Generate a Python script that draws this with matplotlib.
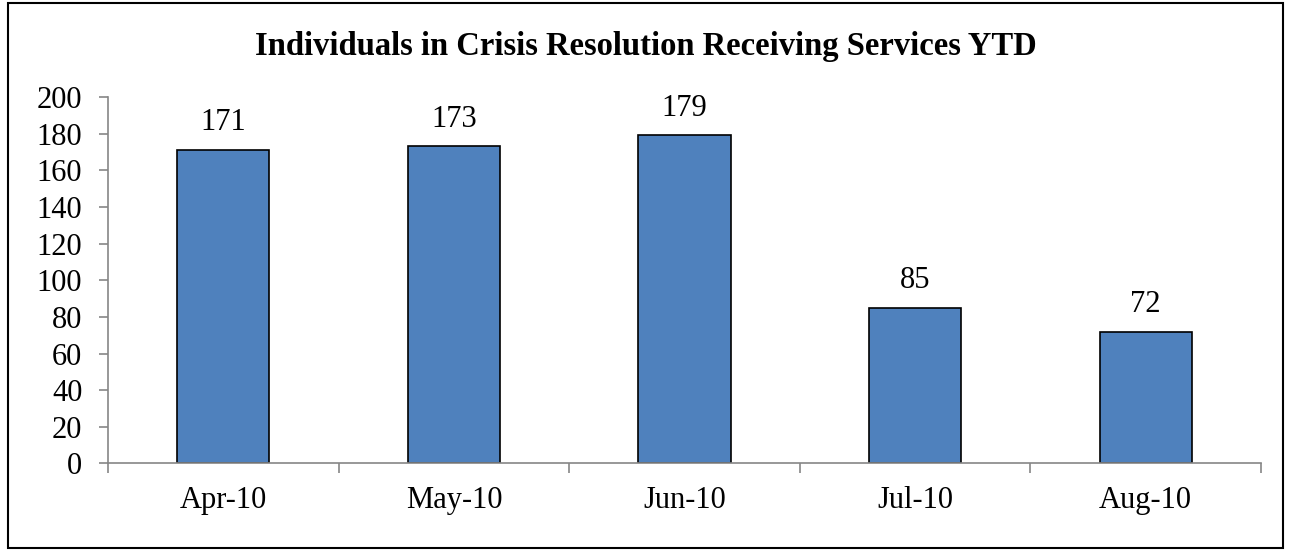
import matplotlib.pyplot as plt
from matplotlib.patches import Rectangle

# chart data
months = ['Apr-10', 'May-10', 'Jun-10', 'Jul-10', 'Aug-10']
individuals = [171, 173, 179, 85, 72]
y_ticks = [0, 20, 40, 60, 80, 100, 120, 140, 160, 180, 200]

plt.rcParams['font.family'] = ['Liberation Serif', 'DejaVu Serif']

fig = plt.figure(figsize=(12.91, 5.5), dpi=100)
ax = fig.add_axes([0.0837, 0.1573, 0.8931, 0.6663])

# outer border of the chart area
fig.patches.append(Rectangle((0.006, 0.004), 0.988, 0.99, transform=fig.transFigure,
                             fill=False, edgecolor='black', linewidth=1.5))

x = range(len(months))
bars = ax.bar(x, individuals, width=0.4, color='#4F81BD', edgecolor='black', linewidth=1.2)

for xi, v in zip(x, individuals):
    ax.text(xi, v + 7, str(v), ha='center', va='bottom', fontsize=22)

ax.set_xlim(-0.5, len(months) - 0.5)
ax.set_ylim(0, 200)
ax.set_yticks(y_ticks)
ax.tick_params(axis='y', labelsize=22, length=6.5, width=1.2, color='#868686', pad=12)

# category ticks sit between the bars
ax.set_xticks([i - 0.5 for i in range(len(months) + 1)])
ax.set_xticklabels([])
ax.set_xticks(list(x), minor=True)
ax.set_xticklabels(months, minor=True)
ax.tick_params(axis='x', which='major', length=7, width=1.2, color='#868686', direction='out')
ax.tick_params(axis='x', which='minor', length=0, labelsize=22, pad=16)

for s in ['top', 'right']:
    ax.spines[s].set_visible(False)
for s in ['left', 'bottom']:
    ax.spines[s].set_color('#868686')
    ax.spines[s].set_linewidth(1.2)

fig.text(0.5, 0.915, 'Individuals in Crisis Resolution Receiving Services YTD',
         ha='center', va='center', fontsize=23.5, fontweight='bold')

fig.savefig('out.png', dpi=100)
